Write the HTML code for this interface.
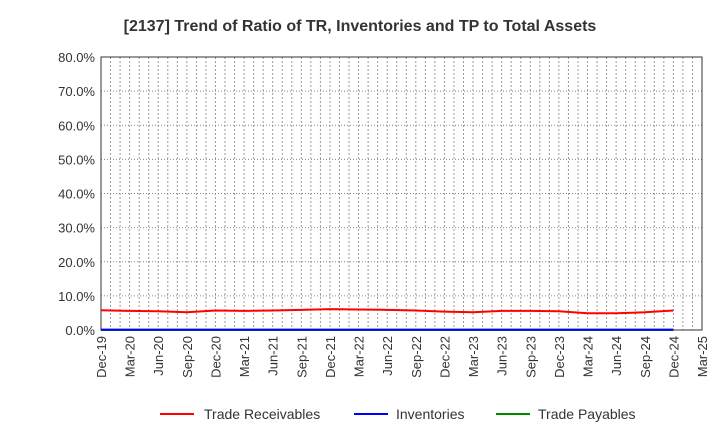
<!DOCTYPE html>
<html><head><meta charset="utf-8"><style>
body{margin:0;background:#fff;font-family:"Liberation Sans",Arial,sans-serif}
</style></head><body>
<svg id="chart" width="720" height="440" xmlns="http://www.w3.org/2000/svg">
<text x="360" y="31" text-anchor="middle" font-size="16" font-weight="bold" fill="#333">[2137]  Trend of Ratio of TR, Inventories and TP to Total Assets</text>
<g id="grid"></g><g id="axes"></g><g id="series"></g>
<g>
<line x1="160" y1="414" x2="194" y2="414" stroke="#f00" stroke-width="2"/>
<text x="204" y="419" font-size="14" fill="#333">Trade Receivables</text>
<line x1="354" y1="414" x2="388" y2="414" stroke="#00f" stroke-width="2"/>
<text x="396" y="419" font-size="14" fill="#333">Inventories</text>
<line x1="496" y1="414" x2="530" y2="414" stroke="#080" stroke-width="2"/>
<text x="538" y="419" font-size="14" fill="#333">Trade Payables</text>
</g>
</svg>
<script>
const xLabels=["Dec-19","Mar-20","Jun-20","Sep-20","Dec-20","Mar-21","Jun-21","Sep-21","Dec-21","Mar-22","Jun-22","Sep-22","Dec-22","Mar-23","Jun-23","Sep-23","Dec-23","Mar-24","Jun-24","Sep-24","Dec-24","Mar-25"];
const yTicks=[0,10,20,30,40,50,60,70,80];
const tradeReceivables=[5.8,5.6,5.5,5.2,5.7,5.6,5.7,5.9,6.1,6.0,5.9,5.7,5.4,5.2,5.6,5.6,5.5,4.9,4.9,5.2,5.7];
const inventories=[0.1,0.1,0.1,0.1,0.1,0.1,0.1,0.1,0.1,0.1,0.1,0.1,0.1,0.1,0.1,0.1,0.1,0.1,0.1,0.1,0.1];
const tradePayables=[0,0,0,0,0,0,0,0,0,0,0,0,0,0,0,0,0,0,0,0,0];
const L=101,R=702,T=57,B=330,NS="http://www.w3.org/2000/svg";
const x=i=>L+(R-L)*i/(xLabels.length-1);
const y=v=>B-(B-T)*v/80;
function mk(t,a,p){const e=document.createElementNS(NS,t);for(const k in a)e.setAttribute(k,a[k]);p.appendChild(e);return e;}
const grid=document.getElementById('grid'),axes=document.getElementById('axes'),ser=document.getElementById('series');
const nM=(xLabels.length-1)*3;
for(let m=1;m<nM;m++){const xx=L+(R-L)*m/nM;const g=mk('line',{x1:xx,x2:xx,y1:T,y2:B,stroke:'#999','stroke-dasharray':'2,2','stroke-width':1},grid);

}
yTicks.forEach(v=>{if(v>0){const g=mk('line',{x1:L,x2:R,y1:y(v),y2:y(v),stroke:'#888','stroke-dasharray':'1,2','stroke-width':1},grid);

}
const t=mk('text',{x:L-6,y:y(v)+5,'text-anchor':'end','font-size':13,fill:'#333'},axes);t.textContent=v.toFixed(1)+'%';

});
const f=mk('rect',{x:L,y:T,width:R-L,height:B-T,fill:'none',stroke:'#333','stroke-width':1},axes);


xLabels.forEach((s,i)=>{const t=mk('text',{transform:`translate(${x(i)+5},${B+6}) rotate(-90)`,'text-anchor':'end','font-size':13,fill:'#333'},axes);t.textContent=s;

});
function line(d,c,n){const p=mk('polyline',{points:d.map((v,i)=>x(i)+','+y(v)).join(' '),fill:'none',stroke:c,'stroke-width':2},ser);

}
line(tradePayables,'#080','trade-payables-line');
line(inventories,'#00f','inventories-line');
line(tradeReceivables,'#f00','trade-receivables-line');
</script>
</body></html>
